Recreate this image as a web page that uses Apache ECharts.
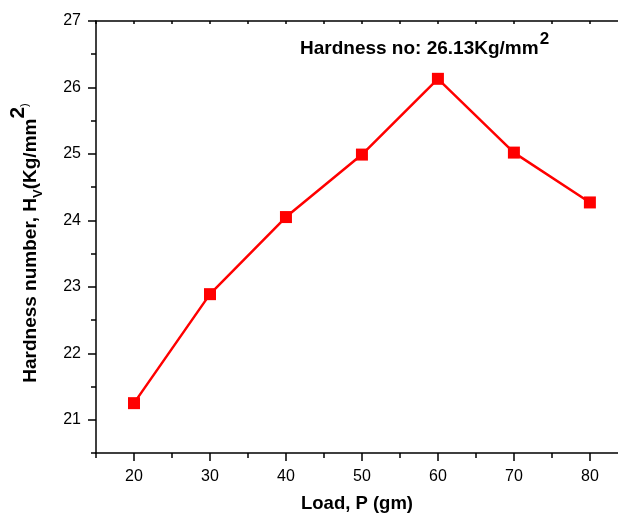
<!DOCTYPE html>
<html><head><meta charset="utf-8">
<script src="https://cdn.jsdelivr.net/npm/echarts@6/dist/echarts.min.js"></script>
<style>html,body{margin:0;padding:0;background:#fff}#c{width:618px;height:514px}</style>
</head><body><div id="c"></div>
<script>
const loads = [20, 30, 40, 50, 60, 70, 80];
const hardness = [21.25, 22.89, 24.05, 24.99, 26.13, 25.02, 24.27];
const xMajorTicks = [20, 30, 40, 50, 60, 70, 80];
const xMinorTicks = [15, 25, 35, 45, 55, 65, 75];
const xTopTicks = [15, 20, 25, 30, 35, 40, 45, 50, 55, 60, 65, 70, 75, 80];
const yMajorTicks = [21, 22, 23, 24, 25, 26, 27];
const yMinorTicks = [20.5, 21.5, 22.5, 23.5, 24.5, 25.5, 26.5];
const xTitle = 'Load, P (gm)';
const annotation = 'Hardness no: 26.13Kg/mm';

const FONT = '"Liberation Sans", Arial, sans-serif';
const chart = echarts.init(document.getElementById('c'), null, {renderer: 'canvas'});
const xr = {min: 15, max: 83.7};
const yr = {min: 20.5, max: 27};
const lineStyle = {color: '#000', width: 1.5};
chart.setOption({
  animation: false,
  backgroundColor: '#fff',
  grid: {left: 96, top: 21, right: 0, bottom: 61, containLabel: false, outerBoundsMode: 'none'},
  xAxis: [
    {type: 'value', position: 'bottom', ...xr, axisLine: {show: true, lineStyle},
     axisTick: {show: true, customValues: xMajorTicks, length: 8, lineStyle},
     axisLabel: {customValues: xMajorTicks, color: '#000', fontSize: 16, fontFamily: FONT, margin: 16},
     splitLine: {show: false},
     name: xTitle, nameLocation: 'middle', nameGap: 41,
     nameTextStyle: {color: '#000', fontSize: 18.5, fontWeight: 'bold', fontFamily: FONT}},
    {type: 'value', position: 'bottom', ...xr, axisLine: {show: false},
     axisTick: {show: true, customValues: xMinorTicks, length: 5, lineStyle},
     axisLabel: {show: false}, splitLine: {show: false}},
    {type: 'value', position: 'top', ...xr, axisLine: {show: true, lineStyle},
     axisTick: {show: true, inside: true, customValues: xTopTicks, length: 3, lineStyle},
     axisLabel: {show: false}, splitLine: {show: false}}
  ],
  yAxis: [
    {type: 'value', position: 'left', ...yr, axisLine: {show: true, lineStyle},
     axisTick: {show: true, customValues: yMajorTicks, length: 8, lineStyle},
     axisLabel: {customValues: yMajorTicks, color: '#000', fontSize: 16, fontFamily: FONT, margin: 15},
     splitLine: {show: false}},
    {type: 'value', position: 'left', ...yr, axisLine: {show: false},
     axisTick: {show: true, customValues: yMinorTicks, length: 5, lineStyle},
     axisLabel: {show: false}, splitLine: {show: false}}
  ],
  series: [{
    type: 'line', xAxisIndex: 0, yAxisIndex: 0,
    data: loads.map((x, i) => [x, hardness[i]]),
    symbol: 'rect', symbolSize: 12,
    itemStyle: {color: '#ff0000'},
    lineStyle: {color: '#ff0000', width: 2.5}
  }],
  graphic: [
    {type: 'text', left: 300, top: 31,
     style: {
       text: '{a|' + annotation + '}{s|2}',
       rich: {
         a: {fontSize: 19, fontWeight: 'bold', fontFamily: FONT, fill: '#000', verticalAlign: 'bottom', lineHeight: 30},
         s: {fontSize: 17, fontWeight: 'bold', fontFamily: FONT, fill: '#000', verticalAlign: 'bottom', padding: [0, 0, 10, 1], lineHeight: 30}
       }
     }},
    {type: 'text', x: 25, y: 243, rotation: Math.PI / 2,
     style: {
       text: '{a|Hardness number, H}{b|V}{a|(Kg/mm}{s|2}{c|)}',
       align: 'center', verticalAlign: 'middle',
       rich: {
         a: {fontSize: 19, fontWeight: 'bold', fontFamily: FONT, fill: '#000', verticalAlign: 'bottom', lineHeight: 30},
         b: {fontSize: 13, fontWeight: 'bold', fontFamily: FONT, fill: '#000', verticalAlign: 'bottom', padding: [0, 0, -5, 0], lineHeight: 30},
         s: {fontSize: 21, fontWeight: 'bold', fontFamily: FONT, fill: '#000', verticalAlign: 'bottom', padding: [0, 0, 11, 0], lineHeight: 30},
         c: {fontSize: 11, fontFamily: FONT, fill: '#000', verticalAlign: 'bottom', padding: [0, 0, 10, 0], lineHeight: 30}
       }
     }}
  ]
});
</script></body></html>
